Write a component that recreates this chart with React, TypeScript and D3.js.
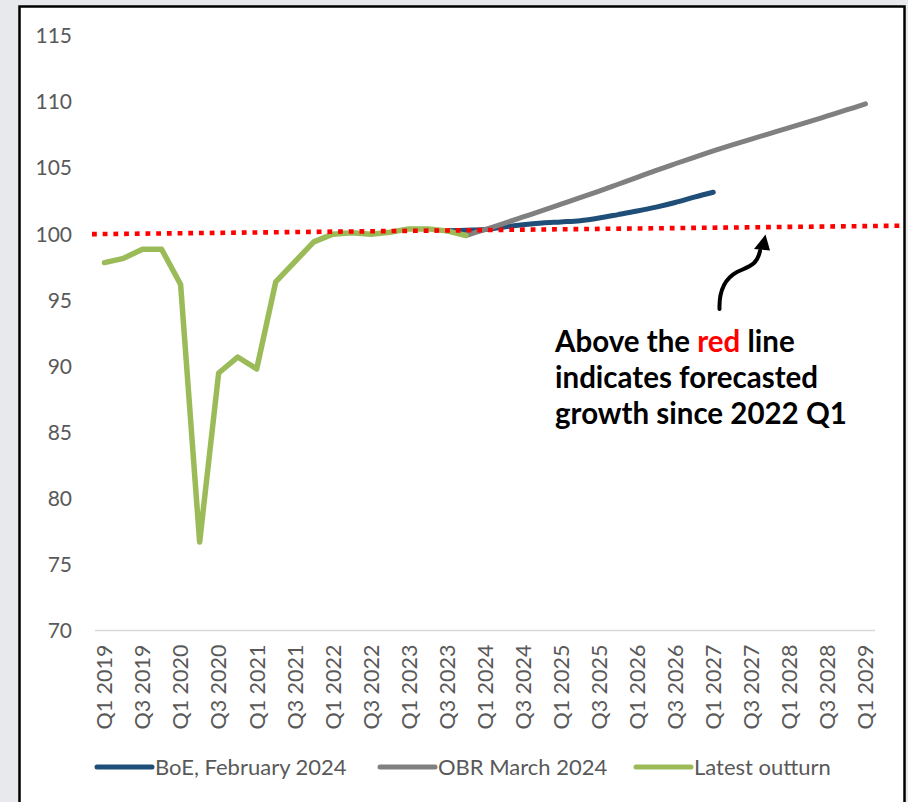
import React from "react";
import * as d3 from "d3";

// UK GDP index, 2022 Q1 = 100
const quarters = [
  "Q1 2019", "Q2 2019", "Q3 2019", "Q4 2019",
  "Q1 2020", "Q2 2020", "Q3 2020", "Q4 2020",
  "Q1 2021", "Q2 2021", "Q3 2021", "Q4 2021",
  "Q1 2022", "Q2 2022", "Q3 2022", "Q4 2022",
  "Q1 2023", "Q2 2023", "Q3 2023", "Q4 2023",
  "Q1 2024", "Q2 2024", "Q3 2024", "Q4 2024",
  "Q1 2025", "Q2 2025", "Q3 2025", "Q4 2025",
  "Q1 2026", "Q2 2026", "Q3 2026", "Q4 2026",
  "Q1 2027", "Q2 2027", "Q3 2027", "Q4 2027",
  "Q1 2028", "Q2 2028", "Q3 2028", "Q4 2028",
  "Q1 2029",
];

// Latest outturn: Q1 2019 .. Q4 2023
const outturn = [
  97.85, 98.17, 98.86, 98.86, 96.19, 76.69, 89.49, 90.7, 89.8, 96.39,
  97.9, 99.42, 100.0, 100.1, 100.0, 100.15, 100.4, 100.4, 100.25, 99.9,
];

// BoE, February 2024 projection: Q3 2023 .. Q1 2027
const boeStart = "Q3 2023";
const boe = [
  100.25, 100.3, 100.35, 100.55, 100.72, 100.85, 100.93, 101.02, 101.22,
  101.48, 101.75, 102.05, 102.4, 102.8, 103.17,
];

// OBR March 2024 forecast: Q4 2023 .. Q1 2029
const obrStart = "Q4 2023";
const obr = [
  99.9, 100.35, 100.82, 101.3, 101.78, 102.27, 102.76, 103.26, 103.78,
  104.3, 104.83, 105.33, 105.82, 106.3, 106.76, 107.2, 107.63, 108.06,
  108.5, 108.95, 109.4, 109.86,
];

const yTicks = [70, 75, 80, 85, 90, 95, 100, 105, 110, 115];
const xTickLabels = quarters.filter((q) => q.startsWith("Q1") || q.startsWith("Q3"));

// Hand-drawn reference line (index level at its left and right ends)
const refLineLeft = 100.0;
const refLineRight = 100.64;

const legendItems = [
  { label: "BoE, February 2024", color: "#1f4e79" },
  { label: "OBR March 2024", color: "#808080" },
  { label: "Latest outturn", color: "#9bbb59" },
];

const W = 908;
const H = 802;
const FONT = "Lato, 'Open Sans', sans-serif";
const TEXT = "#595959";
const AXIS_FS = 21.5;

type Pt = { q: string; v: number };

function seriesFrom(start: string, values: number[]): Pt[] {
  const i0 = quarters.indexOf(start);
  return values.map((v, i) => ({ q: quarters[i0 + i], v }));
}

export default function App() {
  const frame = { x: 19.5, y: 6.5, right: 904.5 };
  const band = d3.scaleBand<string>().domain(quarters).range([95, 875]).padding(0);
  const x = (q: string) => (band(q) ?? 0) + band.bandwidth() / 2;
  const y = d3.scaleLinear().domain([70, 115]).range([630.5, 36]);

  const straight = d3
    .line<Pt>()
    .x((d) => x(d.q))
    .y((d) => y(d.v));
  const smooth = d3
    .line<Pt>()
    .x((d) => x(d.q))
    .y((d) => y(d.v))
    .curve(d3.curveCatmullRom.alpha(0.5));

  const outturnPts = seriesFrom(quarters[0], outturn);
  const boePts = seriesFrom(boeStart, boe);
  const obrPts = seriesFrom(obrStart, obr);

  const refX0 = 92;
  const refX1 = frame.right - 1;

  const axisY = y(70);

  const legendY = 767;
  const legendPos = [97, 380, 636];

  return (
    <svg
      width={W}
      height={H}
      style={{ position: "absolute", left: 0, top: 0, display: "block" }}
      fontFamily={FONT}
    >
      <rect x={0} y={0} width={W} height={H} fill="#e8e9ed" />
      <rect
        x={frame.x}
        y={frame.y}
        width={frame.right - frame.x}
        height={H + 20}
        fill="#ffffff"
        stroke="#000000"
        strokeWidth={2.5}
      />

      {/* y axis labels */}
      {yTicks.map((t) => (
        <text
          key={t}
          x={72}
          y={y(t)}
          dy="0.35em"
          textAnchor="end"
          fontSize={21}
          fill={TEXT}
        >
          {t}
        </text>
      ))}

      {/* category axis */}
      <line x1={95} x2={875} y1={axisY} y2={axisY} stroke="#d9d9d9" strokeWidth={1.5} />
      {xTickLabels.map((q) => (
        <text
          key={q}
          transform={`translate(${x(q) + 7.8},${axisY + 14}) rotate(-90)`}
          textAnchor="end"
          fontSize={AXIS_FS}
          fill={TEXT}
        >
          {q}
        </text>
      ))}

      {/* series */}
      <path d={smooth(boePts) ?? ""} fill="none" stroke="#1f4e79" strokeWidth={5} strokeLinecap="round" strokeLinejoin="round" />
      <path d={smooth(obrPts) ?? ""} fill="none" stroke="#808080" strokeWidth={5} strokeLinecap="round" strokeLinejoin="round" />
      <path d={straight(outturnPts) ?? ""} fill="none" stroke="#9bbb59" strokeWidth={5.5} strokeLinecap="round" strokeLinejoin="round" />

      {/* red reference line */}
      <line
        x1={refX0}
        x2={refX1}
        y1={y(refLineLeft)}
        y2={y(refLineRight)}
        stroke="#ff0000"
        strokeWidth={4.6}
        strokeDasharray="4.8 5.9"
      />

      {/* annotation arrow */}
      <path
        d="M719.5,309 C719,292 724,279 737,272 C750,266 757,265 760,251"
        fill="none"
        stroke="#000000"
        strokeWidth={4}
        strokeLinecap="round"
      />
      <path d="M765.5,234.5 L754,249 L770,250.5 Z" fill="#000000" />

      <text x={555} fontSize={29.5} fontWeight={700} fill="#000000">
        <tspan x={555} y={351.5}>
          Above the <tspan fill="#ff0000">red</tspan> line
        </tspan>
        <tspan x={555} y={388}>indicates forecasted</tspan>
        <tspan x={555} y={424}>growth since 2022 Q1</tspan>
      </text>

      {/* legend */}
      {legendItems.map((it, i) => (
        <g key={it.label} transform={`translate(${legendPos[i]},${legendY})`}>
          <line x1={0} x2={55} y1={0} y2={0} stroke={it.color} strokeWidth={5} strokeLinecap="round" />
          <text x={58} y={0} dy="0.35em" fontSize={AXIS_FS + 0.5} fill={TEXT}>
            {it.label}
          </text>
        </g>
      ))}
    </svg>
  );
}
